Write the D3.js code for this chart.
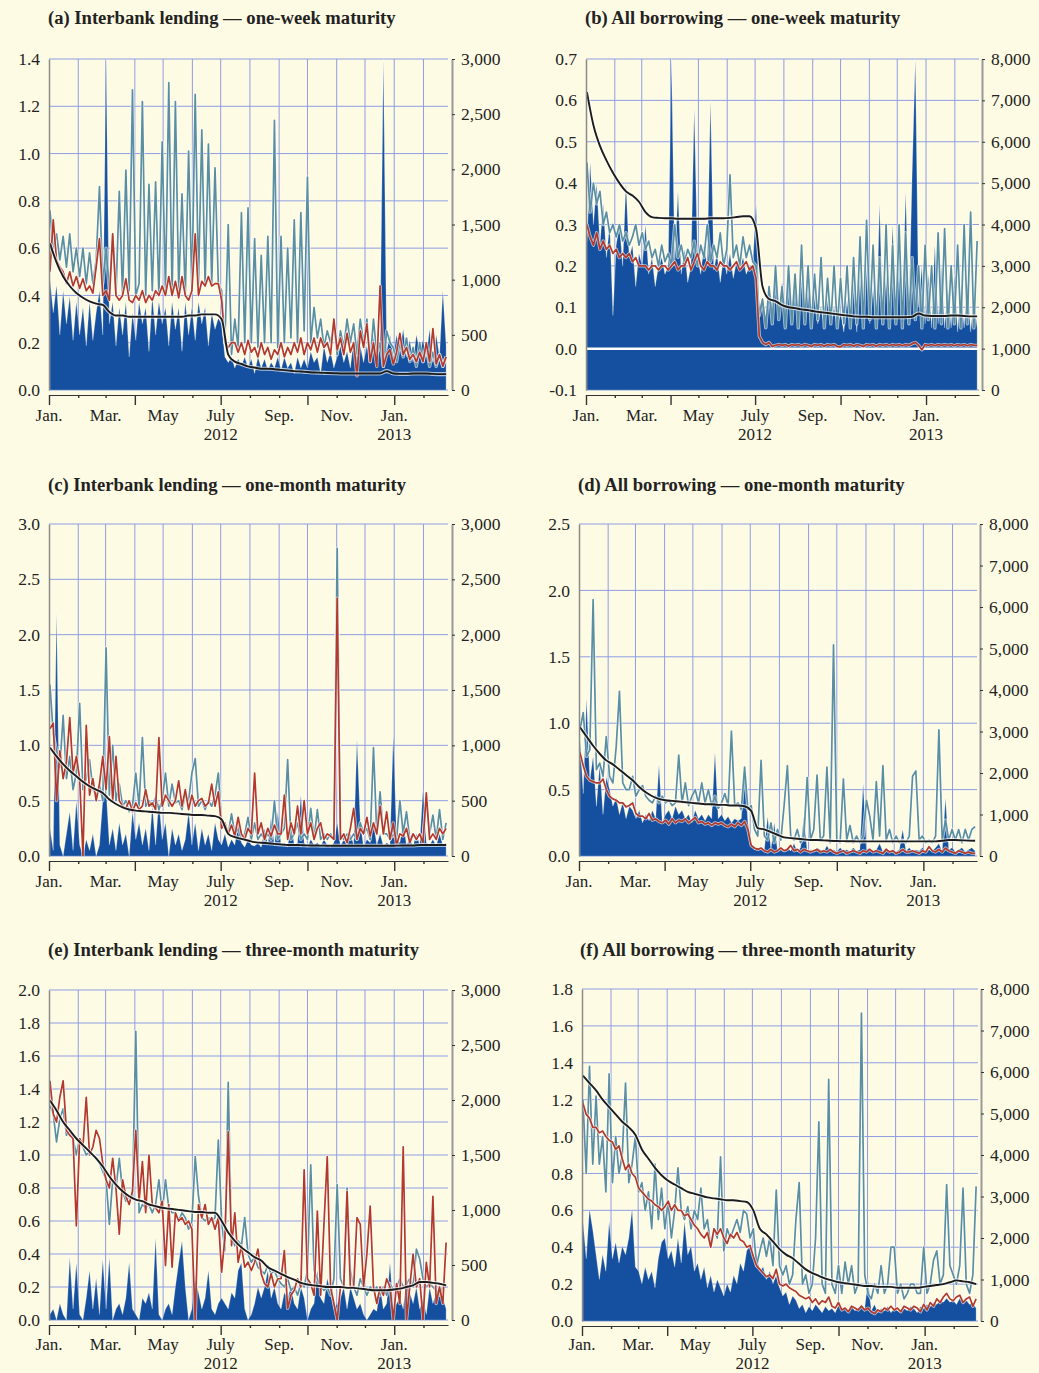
<!DOCTYPE html>
<html><head><meta charset="utf-8">
<script src="https://cdn.jsdelivr.net/npm/d3@7"></script>
<style>body{margin:0;background:#FEFBE4}svg{display:block}</style>
</head><body><svg id="chart" width="1039" height="1373"></svg>
<script>
// ---------- DATA (sampled every 3.5 days from 2 Jan 2012; benchmark weekly) ----------
const upperA = [0.76,0.60,0.66,0.55,0.65,0.52,0.66,0.50,0.60,0.48,
0.60,0.45,0.58,0.45,0.55,0.86,0.45,0.60,0.42,0.66,
0.40,0.84,0.40,0.93,0.42,1.27,0.40,0.45,1.22,0.40,
0.87,0.42,0.88,0.40,1.05,0.42,1.30,0.40,1.22,0.42,
0.83,0.40,1.01,0.42,1.25,0.45,1.10,0.44,1.04,0.45,
0.94,0.45,0.42,0.20,0.70,0.15,0.30,0.18,0.75,0.20,
0.77,0.20,0.64,0.18,0.57,0.20,0.65,0.20,1.14,0.18,
0.65,0.20,0.60,0.22,0.72,0.20,0.75,0.25,0.90,0.20,
0.35,0.22,0.30,0.18,0.25,0.20,0.28,0.15,0.25,0.18,
0.30,0.20,0.28,0.15,0.30,0.20,0.30,0.12,0.30,0.15,
0.20,0.10,0.25,0.20,0.18,0.12,0.20,0.14,0.22,0.12,
0.18,0.10,0.20,0.12,0.18,0.10,0.16,0.10,0.15,0.10,
0.14];
const meanA = [0.50,0.72,0.55,0.52,0.50,0.45,0.50,0.44,0.48,0.43,
0.47,0.42,0.44,0.41,0.52,0.64,0.40,0.42,0.38,0.66,
0.40,0.38,0.40,0.47,0.38,0.37,0.40,0.38,0.42,0.37,
0.40,0.38,0.42,0.40,0.44,0.40,0.48,0.40,0.46,0.39,
0.48,0.40,0.38,0.42,0.66,0.40,0.46,0.44,0.48,0.44,
0.45,0.45,0.38,0.20,0.18,0.20,0.20,0.16,0.20,0.15,
0.21,0.16,0.18,0.14,0.20,0.15,0.18,0.13,0.17,0.15,
0.20,0.14,0.18,0.15,0.20,0.16,0.22,0.15,0.20,0.17,
0.22,0.16,0.22,0.18,0.20,0.15,0.30,0.17,0.22,0.15,
0.24,0.16,0.20,0.06,0.25,0.18,0.28,0.12,0.20,0.10,
0.44,0.10,0.15,0.17,0.11,0.16,0.24,0.15,0.18,0.13,
0.15,0.12,0.16,0.12,0.20,0.12,0.26,0.11,0.15,0.10,
0.14];
const volumeA = [1000,700,950,500,900,600,850,450,800,500,
750,400,800,450,700,900,500,3000,600,800,
400,750,500,800,300,700,450,800,600,750,
350,850,500,800,600,750,400,800,550,750,
350,800,500,750,450,800,600,750,400,700,
550,650,600,300,250,300,200,280,220,300,
200,280,150,300,200,280,180,250,200,300,
180,300,200,250,150,300,200,280,200,350,
250,300,150,400,250,350,200,300,400,250,
350,200,450,300,400,250,400,300,500,250,
450,3000,350,500,300,500,350,550,300,450,
250,500,350,450,300,550,250,500,300,900,
400];
const benchA = [0.62,0.54,0.48,0.44,0.41,0.39,0.375,0.365,0.36,0.33,
0.315,0.315,0.31,0.31,0.31,0.31,0.31,0.31,0.31,0.31,
0.31,0.315,0.315,0.32,0.32,0.32,0.30,0.15,0.12,0.11,
0.10,0.095,0.09,0.09,0.088,0.085,0.083,0.08,0.078,0.076,
0.074,0.073,0.072,0.071,0.07,0.07,0.07,0.07,0.07,0.07,
0.07,0.08,0.07,0.068,0.068,0.07,0.07,0.07,0.068,0.067,
0.067];

const upperB = [0.45,0.33,0.40,0.35,0.38,0.30,0.33,0.28,0.30,0.27,
0.30,0.26,0.28,0.25,0.27,0.30,0.25,0.28,0.24,0.26,
0.22,0.24,0.20,0.25,0.21,0.23,0.20,0.30,0.22,0.25,
0.21,0.24,0.22,0.26,0.20,0.25,0.22,0.30,0.21,0.25,
0.22,0.28,0.20,0.24,0.42,0.22,0.25,0.20,0.27,0.22,
0.25,0.21,0.20,0.08,0.12,0.05,0.15,0.06,0.20,0.07,
0.15,0.05,0.20,0.06,0.18,0.05,0.25,0.06,0.20,0.05,
0.18,0.07,0.22,0.05,0.17,0.06,0.20,0.05,0.17,0.06,
0.20,0.05,0.22,0.06,0.27,0.05,0.31,0.07,0.25,0.05,
0.22,0.06,0.30,0.05,0.25,0.06,0.30,0.05,0.28,0.06,
0.22,0.07,0.20,0.05,0.25,0.07,0.20,0.05,0.28,0.06,
0.29,0.05,0.20,0.06,0.25,0.05,0.30,0.06,0.33,0.05,
0.26];
const meanB = [0.30,0.27,0.25,0.28,0.24,0.26,0.24,0.25,0.23,0.24,
0.22,0.23,0.22,0.23,0.21,0.22,0.20,0.20,0.20,0.19,
0.20,0.20,0.19,0.20,0.20,0.19,0.20,0.21,0.19,0.20,
0.20,0.22,0.19,0.21,0.23,0.20,0.19,0.21,0.20,0.20,
0.19,0.21,0.20,0.20,0.19,0.20,0.21,0.19,0.20,0.21,
0.19,0.20,0.17,0.03,0.015,0.01,0.015,0.005,0.008,0.01,
0.008,0.01,0.006,0.01,0.008,0.01,0.007,0.01,0.008,0.005,
0.01,0.008,0.01,0.006,0.01,0.008,0.01,0.005,0.004,0.01,
0.008,0.01,0.006,0.01,0.008,0.005,0.01,0.008,0.01,0.006,
0.01,0.008,0.01,0.007,0.01,0.008,0.01,0.007,0.01,0.008,
0.012,0.015,0.008,-0.003,0.01,0.008,0.01,0.007,0.01,0.008,
0.01,0.008,0.01,0.007,0.01,0.008,0.01,0.007,0.01,0.008,
0.008];
const volumeB = [3500,5500,4000,5000,3500,4500,3200,4000,1800,3500,
4000,3000,5000,3200,3500,2500,3300,3000,4000,2800,
3200,2500,3000,3200,2800,3000,8000,3000,4800,2800,
3400,2600,3000,6800,3200,2800,3500,3000,7000,2900,
3300,2600,3200,2800,3300,2700,3100,2900,3200,2800,
3000,3000,4500,2000,2200,1800,2500,2000,2800,1900,
2600,2000,2800,1800,2500,1900,2700,1800,2400,1700,
2300,1600,2000,1500,2200,1600,2000,1500,1900,1400,
2200,1500,2600,1400,2800,1500,3000,1600,2500,1500,
4500,1600,2800,1500,4000,1700,3000,1500,4800,1800,
5200,8000,2000,3000,1600,2800,1500,3500,1600,3000,
1500,2500,1500,2800,1400,2400,1500,2600,1400,2200,
1500];
const benchB = [0.62,0.54,0.49,0.455,0.425,0.40,0.38,0.37,0.355,0.33,
0.318,0.316,0.315,0.315,0.314,0.314,0.314,0.314,0.314,0.315,
0.315,0.315,0.316,0.318,0.32,0.32,0.29,0.15,0.12,0.115,
0.105,0.10,0.098,0.095,0.093,0.09,0.088,0.086,0.084,0.082,
0.08,0.078,0.077,0.077,0.076,0.076,0.076,0.076,0.076,0.076,
0.077,0.085,0.08,0.079,0.079,0.079,0.08,0.08,0.079,0.078,
0.078];

const upperC = [1.55,1.10,0.95,0.80,1.27,0.70,0.90,0.60,0.75,1.38,
0.60,0.70,0.87,0.60,0.55,0.65,0.50,1.88,0.55,1.00,
0.50,0.65,0.45,0.50,0.40,0.45,0.75,0.45,1.07,0.45,
0.50,0.45,0.53,0.42,0.50,0.75,0.45,0.65,0.48,0.50,
0.42,0.55,0.50,0.75,0.88,0.45,0.50,0.42,0.50,0.45,
0.55,0.75,0.30,0.25,0.20,0.38,0.20,0.25,0.15,0.20,
0.35,0.15,0.30,0.15,0.20,0.15,0.20,0.15,0.50,0.15,
0.20,0.25,0.87,0.15,0.20,0.30,0.15,0.20,0.15,0.43,
0.15,0.42,0.15,0.20,0.15,0.20,0.15,2.78,0.20,0.15,
0.20,0.15,0.20,0.15,0.30,0.20,0.25,0.15,0.98,0.20,
0.58,0.20,0.20,0.15,0.20,0.15,0.50,0.20,0.40,0.15,
0.20,0.15,0.20,0.15,0.50,0.20,0.37,0.15,0.42,0.15,
0.30];
const meanC = [1.15,1.20,0.50,0.95,0.70,0.85,1.25,0.75,0.90,0.70,
0.00,1.18,0.55,0.70,0.50,0.65,0.90,0.60,1.08,0.50,
0.90,0.50,0.45,0.43,0.50,0.40,0.48,0.42,0.45,0.60,
0.45,0.48,0.42,1.07,0.45,0.55,0.50,0.45,0.50,0.68,
0.45,0.60,0.42,0.55,0.45,0.50,0.52,0.45,0.48,0.65,
0.45,0.58,0.25,0.30,0.20,0.28,0.18,0.35,0.20,0.15,
0.25,0.20,0.75,0.20,0.30,0.15,0.25,0.18,0.28,0.20,
0.20,0.55,0.15,0.30,0.20,0.45,0.20,0.50,0.20,0.30,
0.15,0.25,0.30,0.15,0.20,0.18,0.15,2.33,0.15,0.20,
0.12,0.25,0.43,0.15,0.25,0.20,0.35,0.18,0.30,0.20,
0.45,0.20,0.40,0.15,0.30,0.10,0.20,0.18,0.25,0.12,
0.20,0.15,0.20,0.12,0.57,0.15,0.20,0.15,0.25,0.20,
0.25];
const volumeC = [250,50,2200,100,0,200,400,50,500,100,
0,150,50,200,0,100,500,600,100,250,
50,300,100,200,0,400,150,300,100,250,
50,450,100,500,150,300,0,250,100,200,
50,150,400,100,300,50,250,100,200,50,
300,150,100,200,80,150,100,300,120,80,
150,100,90,120,80,250,100,350,90,400,
100,120,80,300,100,120,550,120,80,150,
100,120,90,150,100,80,120,300,90,150,
100,200,100,1050,300,80,150,120,300,100,
200,90,120,100,1100,150,120,300,100,150,
90,200,100,600,120,100,150,90,200,100,
120];
const benchC = [0.98,0.90,0.83,0.77,0.72,0.67,0.63,0.60,0.57,0.51,
0.47,0.44,0.42,0.41,0.405,0.40,0.395,0.39,0.39,0.385,
0.38,0.375,0.37,0.37,0.365,0.36,0.33,0.20,0.17,0.155,
0.14,0.125,0.12,0.115,0.11,0.105,0.10,0.10,0.098,0.096,
0.095,0.094,0.093,0.092,0.092,0.092,0.092,0.092,0.092,0.092,
0.092,0.092,0.093,0.094,0.095,0.095,0.10,0.10,0.10,0.10,
0.10];

const upperD = [0.95,1.08,0.75,0.80,1.93,0.65,0.70,0.60,0.90,0.60,
0.55,0.82,1.24,0.55,0.50,0.50,0.60,0.45,0.50,0.53,
0.45,0.42,0.40,0.45,0.40,0.45,0.40,0.42,0.38,0.40,
0.76,0.40,0.55,0.38,0.45,0.50,0.40,0.55,0.40,0.50,
0.38,0.45,0.36,0.40,0.47,0.38,0.94,0.38,0.40,0.35,
0.67,0.35,0.38,0.20,0.15,0.72,0.15,0.12,0.25,0.10,
0.20,0.12,0.38,0.68,0.15,0.12,0.20,0.10,0.15,0.59,
0.12,0.20,0.61,0.12,0.15,0.67,0.10,1.59,0.12,0.10,
0.58,0.12,0.23,0.10,0.15,0.10,0.15,0.42,0.30,0.12,
0.56,0.15,0.68,0.12,0.20,0.10,0.15,0.10,0.12,0.10,
0.15,0.60,0.64,0.12,0.15,0.10,0.12,0.10,0.15,0.95,
0.12,0.27,0.12,0.20,0.12,0.20,0.10,0.20,0.12,0.20,
0.22];
const meanD = [0.78,0.68,0.60,0.57,0.56,0.55,0.55,0.58,0.50,0.45,
0.43,0.42,0.40,0.40,0.37,0.38,0.40,0.32,0.30,0.30,
0.28,0.32,0.27,0.28,0.26,0.25,0.27,0.24,0.28,0.25,
0.27,0.26,0.28,0.25,0.27,0.29,0.25,0.26,0.24,0.25,
0.23,0.25,0.24,0.25,0.23,0.22,0.24,0.22,0.25,0.23,
0.26,0.20,0.08,0.06,0.05,0.06,0.04,0.03,0.05,0.03,
0.04,0.06,0.04,0.05,0.08,0.04,0.05,0.03,0.05,0.04,
0.03,0.04,0.05,0.03,0.04,0.03,0.05,0.03,0.02,0.03,
0.04,0.02,0.03,0.04,0.03,0.02,0.04,0.03,0.05,0.03,
0.04,0.03,0.02,0.05,0.03,0.04,0.02,0.03,0.05,0.03,
0.03,0.04,0.03,0.02,0.04,0.03,0.07,0.04,0.03,0.05,
0.03,0.06,0.04,0.03,0.02,0.04,0.03,0.02,0.03,0.02,
0.02];
const volumeD = [2800,1500,3800,1800,2400,1200,2200,1000,1900,1600,
1200,1400,1000,1300,900,1200,1100,900,1100,800,
1000,850,1100,900,2200,800,1000,1100,900,1200,
1000,1100,900,1000,800,1100,900,1000,850,1000,
900,2500,900,1000,850,950,800,900,850,900,
2100,800,300,150,200,150,150,950,150,800,
120,150,100,200,120,300,100,200,950,120,
150,100,200,150,100,250,120,150,100,200,
120,150,100,200,120,150,1750,150,200,100,
150,300,100,200,120,150,100,150,640,120,
200,100,150,120,200,100,150,120,200,300,
100,1400,150,200,100,150,200,100,150,200,
120];
const benchD = [0.97,0.90,0.83,0.77,0.72,0.69,0.65,0.61,0.57,0.52,
0.48,0.45,0.43,0.42,0.415,0.41,0.405,0.40,0.395,0.39,
0.39,0.385,0.385,0.38,0.38,0.375,0.34,0.21,0.20,0.18,
0.16,0.14,0.135,0.13,0.125,0.12,0.12,0.118,0.115,0.113,
0.112,0.111,0.11,0.11,0.11,0.11,0.11,0.11,0.11,0.11,
0.11,0.11,0.11,0.11,0.11,0.115,0.12,0.12,0.118,0.116,
0.115];

const upperE = [1.30,1.25,1.08,1.22,1.28,1.12,1.15,1.10,1.00,1.10,
1.05,1.00,1.02,1.00,0.98,0.95,0.90,0.85,0.58,0.85,
0.80,0.98,0.78,0.72,0.75,0.74,1.75,0.65,0.70,0.68,
0.70,0.65,0.70,0.85,0.65,0.85,0.68,0.65,0.65,0.60,
0.65,0.62,0.55,0.60,0.99,0.75,0.62,0.60,0.62,0.60,
0.62,1.09,0.60,0.42,1.44,0.50,0.45,0.48,0.45,0.62,
0.40,0.35,0.38,0.32,0.30,0.28,0.33,0.28,0.30,0.25,
0.22,0.20,0.25,0.18,0.20,0.15,0.22,0.20,0.30,0.94,
0.30,0.25,0.20,0.18,0.20,0.15,0.25,0.82,0.25,0.20,
0.80,0.30,0.20,0.15,0.25,0.20,0.15,0.20,0.18,0.20,
0.15,0.20,0.15,0.22,0.18,0.20,0.25,0.20,0.22,0.25,
0.20,0.43,0.37,0.25,0.20,0.22,0.20,0.18,0.15,0.20,
0.20];
const meanE = [1.45,1.25,1.20,1.35,1.45,1.15,1.12,1.10,0.57,1.10,
1.05,1.35,1.00,1.05,1.15,1.10,0.95,0.85,0.80,0.98,
0.80,0.52,0.85,0.75,0.70,0.78,1.15,0.72,0.96,0.65,
1.00,0.70,0.68,0.65,0.72,0.33,0.70,0.32,0.65,0.60,
0.62,0.58,0.60,0.55,0.00,0.70,0.62,0.70,0.58,0.62,
0.55,0.62,0.29,0.50,1.14,0.45,0.65,0.35,0.45,0.32,
0.35,0.30,0.35,0.43,0.28,0.22,0.20,0.28,0.20,0.25,
0.25,0.42,0.07,0.15,0.18,0.25,0.20,0.91,0.25,0.22,
0.15,0.66,0.15,0.58,0.99,0.20,0.10,0.00,0.20,0.20,
0.78,0.20,0.20,0.62,0.58,0.20,0.40,0.69,0.20,0.10,
0.20,0.15,0.25,0.20,0.00,0.22,0.10,1.05,0.00,0.20,
0.40,0.20,0.25,0.00,0.35,0.20,0.75,0.10,0.20,0.10,
0.47];
const volumeE = [50,100,0,150,50,0,570,100,520,50,
0,200,450,100,380,50,550,100,570,0,
100,150,50,200,525,100,50,0,200,150,
250,100,750,50,0,100,150,50,300,520,
720,300,0,100,370,250,100,200,450,100,
50,150,200,150,100,250,200,450,520,100,
0,50,150,300,200,300,450,200,300,150,
100,250,200,300,150,100,300,200,0,100,
150,450,200,150,380,250,100,150,200,300,
100,300,200,100,150,50,0,50,100,80,
300,100,150,520,100,150,200,100,380,250,
150,300,100,200,50,300,150,250,300,200,
100];
const benchE = [1.33,1.27,1.20,1.15,1.10,1.06,1.02,0.98,0.93,0.87,
0.82,0.78,0.75,0.73,0.72,0.70,0.69,0.68,0.675,0.67,
0.665,0.66,0.655,0.655,0.65,0.65,0.60,0.53,0.48,0.44,
0.41,0.38,0.36,0.32,0.30,0.28,0.26,0.245,0.225,0.215,
0.21,0.205,0.20,0.20,0.20,0.195,0.195,0.19,0.185,0.18,
0.18,0.18,0.185,0.19,0.20,0.21,0.23,0.23,0.225,0.22,
0.21];

const upperF = [1.20,0.80,1.38,0.85,1.22,0.85,1.00,0.70,1.34,0.75,
1.00,0.80,0.90,1.29,0.75,0.85,1.00,0.70,0.75,0.60,
0.70,0.50,0.85,0.55,0.72,0.50,0.65,0.45,0.60,0.83,
0.60,0.55,0.62,0.50,0.60,0.55,0.72,0.50,0.55,0.40,
0.50,0.45,0.89,0.38,0.50,0.45,0.50,0.55,0.48,0.60,
0.58,0.45,0.50,0.30,0.38,0.45,0.35,0.45,0.30,0.71,
0.30,0.25,0.30,0.20,0.25,0.55,0.75,0.20,0.25,0.15,
0.20,0.45,1.08,0.20,0.15,1.31,0.20,0.15,0.30,0.15,
0.32,0.20,0.30,0.15,0.20,1.67,0.25,0.15,0.12,0.20,
0.15,0.30,0.15,0.20,0.40,0.40,0.15,0.20,0.12,0.15,
0.20,0.20,0.15,0.15,0.40,0.15,0.20,0.33,0.38,0.20,
0.25,0.74,0.30,0.25,0.20,0.30,0.72,0.20,0.15,0.25,
0.73];
const meanF = [1.18,1.12,1.10,1.05,1.05,1.02,1.03,1.00,0.98,0.97,
0.93,0.95,0.88,0.82,0.85,0.80,0.78,0.72,0.70,0.68,
0.66,0.65,0.63,0.62,0.60,0.62,0.65,0.60,0.63,0.60,
0.60,0.57,0.58,0.55,0.52,0.50,0.47,0.45,0.48,0.40,
0.50,0.47,0.50,0.45,0.42,0.47,0.45,0.48,0.44,0.43,
0.40,0.41,0.35,0.30,0.28,0.26,0.24,0.25,0.23,0.28,
0.20,0.19,0.20,0.18,0.17,0.16,0.14,0.13,0.12,0.13,
0.10,0.12,0.09,0.11,0.10,0.13,0.08,0.07,0.10,0.06,
0.07,0.05,0.08,0.07,0.06,0.08,0.06,0.07,0.05,0.04,
0.06,0.05,0.07,0.06,0.08,0.06,0.07,0.05,0.08,0.07,
0.06,0.08,0.07,0.05,0.09,0.06,0.10,0.08,0.12,0.10,
0.13,0.15,0.12,0.11,0.13,0.14,0.10,0.12,0.13,0.08,
0.12];
const volumeF = [2400,1500,2700,2200,1600,1000,1600,1200,2400,1500,
1900,1400,1800,1600,2000,2700,1300,1200,900,1300,
1000,1200,800,1500,1900,2000,1500,1700,1300,2000,
1400,2400,1600,1800,1200,1400,1000,1300,800,1100,
700,1000,800,600,900,700,1100,900,1400,1200,
1700,1800,1500,1600,1200,1300,1000,1200,900,1100,
800,600,700,400,600,500,300,400,200,350,
250,400,300,200,350,250,300,200,400,250,
300,200,350,250,300,400,300,1000,250,400,
200,300,250,350,200,300,250,200,300,250,
350,300,200,350,300,400,350,450,400,500,
450,550,450,500,400,550,450,500,400,450,
300];
const benchF = [1.33,1.29,1.25,1.20,1.16,1.12,1.08,1.05,1.01,0.93,
0.88,0.83,0.79,0.76,0.74,0.72,0.70,0.69,0.68,0.67,
0.665,0.66,0.655,0.655,0.65,0.645,0.60,0.50,0.47,0.43,
0.39,0.36,0.34,0.31,0.28,0.26,0.245,0.23,0.22,0.21,
0.205,0.20,0.195,0.19,0.19,0.185,0.185,0.185,0.18,0.18,
0.18,0.18,0.185,0.19,0.195,0.20,0.21,0.22,0.215,0.21,
0.20];

const titles = ["(a) Interbank lending — one-week maturity","(b) All borrowing — one-week maturity",
"(c) Interbank lending — one-month maturity","(d) All borrowing — one-month maturity",
"(e) Interbank lending — three-month maturity","(f) All borrowing — three-month maturity"];
const leftTicks = [[0,0.2,0.4,0.6,0.8,1.0,1.2,1.4],[-0.1,0,0.1,0.2,0.3,0.4,0.5,0.6,0.7],
[0,0.5,1.0,1.5,2.0,2.5,3.0],[0,0.5,1.0,1.5,2.0,2.5],
[0,0.2,0.4,0.6,0.8,1.0,1.2,1.4,1.6,1.8,2.0],[0,0.2,0.4,0.6,0.8,1.0,1.2,1.4,1.6,1.8]];
const rightTicks = [[0,500,1000,1500,2000,2500,3000],[0,1000,2000,3000,4000,5000,6000,7000,8000],
[0,500,1000,1500,2000,2500,3000],[0,1000,2000,3000,4000,5000,6000,7000,8000],
[0,500,1000,1500,2000,2500,3000],[0,1000,2000,3000,4000,5000,6000,7000,8000]];
const monthLabels = ["Jan.","Mar.","May","July","Sep.","Nov.","Jan."];
const monthLabelDates = ["2012-01-01","2012-03-01","2012-05-01","2012-07-01","2012-09-01","2012-11-01","2013-01-01"];
const yearLabels = ["2012","2013"];
const yearLabelDates = ["2012-07-01","2013-01-01"];

// ---------- LAYOUT ----------
const startDate = new Date(2012,0,2);
const dailyDates = d3.range(upperA.length).map(i => new Date(startDate.getTime() + i*3.5*864e5));
const weeklyDates = d3.range(benchA.length).map(i => d3.timeDay.offset(startDate, 7*i));
const parse = d3.timeParse("%Y-%m-%d");

const panels = [
 {x0:49,x1:448,ax:452,y0:59,y1:390,tx:48,ty:24,up:upperA,mean:meanA,vol:volumeA,bench:benchA},
 {x0:586,x1:979,ax:982,y0:59,y1:390,tx:585,ty:24,up:upperB,mean:meanB,vol:volumeB,bench:benchB,zero:true},
 {x0:49,x1:448,ax:452,y0:524,y1:856,tx:48,ty:491,up:upperC,mean:meanC,vol:volumeC,bench:benchC},
 {x0:579,x1:977,ax:980,y0:524,y1:856,tx:578,ty:491,up:upperD,mean:meanD,vol:volumeD,bench:benchD},
 {x0:49,x1:448,ax:452,y0:990,y1:1320,tx:48,ty:956,up:upperE,mean:meanE,vol:volumeE,bench:benchE},
 {x0:582,x1:978,ax:981,y0:989,y1:1321,tx:580,ty:956,up:upperF,mean:meanF,vol:volumeF,bench:benchF}
];

const C = {bg:"#FEFBE4", grid:"#8E9DE3", blue:"#14509F", teal:"#5A8FA2", red:"#B3392B", black:"#1c1c1c", text:"#222"};
const FONT = "'Liberation Serif','Times New Roman',serif";
const svg = d3.select("#chart");
svg.append("rect").attr("width",1039).attr("height",1373).attr("fill",C.bg);

const fmtL = v => d3.format(".1f")(v).replace("\u2212","-");
const fmtR = d3.format(",");

panels.forEach((p,k) => {
  const g = svg.append("g");
  const x = d3.scaleTime().domain([new Date(2012,0,1), new Date(2013,1,27)]).range([p.x0,p.x1]);
  const yL = d3.scaleLinear().domain(d3.extent(leftTicks[k])).range([p.y1,p.y0]);
  const yR = d3.scaleLinear().domain(d3.extent(rightTicks[k])).range([p.y1,p.y0]);

  // title
  g.append("text").attr("x",p.tx).attr("y",p.ty).text(titles[k])
    .attr("font-family",FONT).attr("font-weight","bold").attr("font-size","18.6px").attr("fill",C.text);

  // grid
  const grid = g.append("g").attr("stroke",C.grid).attr("stroke-width",1);
  leftTicks[k].forEach(t => grid.append("line").attr("x1",p.x0).attr("x2",p.x1).attr("y1",yL(t)).attr("y2",yL(t)));
  d3.timeMonth.range(new Date(2012,1,1), new Date(2013,1,2)).forEach(m =>
    grid.append("line").attr("x1",x(m)).attr("x2",x(m)).attr("y1",p.y0).attr("y2",p.y1));

  // clip
  const cid = "clip"+k;
  g.append("clipPath").attr("id",cid).append("rect")
    .attr("x",p.x0).attr("y",p.y0).attr("width",p.x1-p.x0).attr("height",p.y1-p.y0);
  const plot = g.append("g").attr("clip-path",`url(#${cid})`);

  // volume area (right axis)
  const area = d3.area().x((d,i)=>x(dailyDates[i])).y0(yR(0)).y1(d=>yR(d));
  plot.append("path").datum(p.vol).attr("d",area).attr("fill",C.blue)
    .attr("stroke","rgba(255,255,255,0.35)").attr("stroke-width",0.7);

  if (p.zero) {
    plot.append("line").attr("x1",p.x0).attr("x2",p.x1).attr("y1",yL(0)).attr("y2",yL(0))
      .attr("stroke","#fff").attr("stroke-width",2.5);
  }

  const lineD = d3.line().x((d,i)=>x(dailyDates[i])).y(d=>yL(d));
  const lineW = d3.line().x((d,i)=>x(weeklyDates[i])).y(d=>yL(d)).curve(d3.curveMonotoneX);
  const drawLine = (data, gen, col, w, halo) => {
    plot.append("path").datum(data).attr("d",gen).attr("fill","none")
      .attr("stroke","#fff").attr("stroke-opacity",0.65).attr("stroke-width",w+halo).attr("stroke-linejoin","round");
    plot.append("path").datum(data).attr("d",gen).attr("fill","none")
      .attr("stroke",col).attr("stroke-width",w).attr("stroke-linejoin","round");
  };
  drawLine(p.up, lineD, C.teal, 1.7, 1.6);
  drawLine(p.mean, lineD, C.red, 1.7, 1.6);
  drawLine(p.bench, lineW, C.black, 1.9, 2.2);

  // left axis
  const la = g.append("g").attr("transform",`translate(${p.x0},0)`)
    .call(d3.axisLeft(yL).tickValues(leftTicks[k]).tickSize(0).tickPadding(9).tickFormat(fmtL));
  la.select(".domain").attr("stroke","#8a8a8a").attr("stroke-width",1.5);
  la.selectAll("text").attr("font-family",FONT).attr("font-size","17.5px").attr("fill",C.text);

  // right axis
  const ra = g.append("g").attr("transform",`translate(${p.ax},0)`)
    .call(d3.axisRight(yR).tickValues(rightTicks[k]).tickSize(3).tickSizeOuter(0).tickPadding(6).tickFormat(fmtR));
  ra.select(".domain").attr("stroke","#999").attr("stroke-width",2);
  ra.selectAll(".tick line").attr("stroke","#333");
  ra.selectAll("text").attr("font-family",FONT).attr("font-size","17.5px").attr("fill",C.text);

  // bottom axis
  const ba = g.append("g").attr("transform",`translate(0,${p.y1+5})`)
    .call(d3.axisBottom(x).ticks(d3.timeMonth.every(1)).tickSize(3).tickSizeOuter(0).tickFormat(""));
  ba.select(".domain").attr("stroke","#333").attr("stroke-width",1.2);
  ba.selectAll(".tick line").attr("stroke","#333").attr("stroke-width",1.4)
    .attr("y2", d => d.getMonth()%3===0 ? 10 : 3);

  const lab = g.append("g").attr("font-family",FONT).attr("font-size","17px").attr("fill",C.text).attr("text-anchor","middle");
  const monthY = Math.min(p.y1+31, 1349.5), yearY = Math.min(p.y1+50, 1369);
  monthLabels.forEach((m,i) => lab.append("text").attr("x",x(parse(monthLabelDates[i]))).attr("y",monthY).text(m));
  yearLabels.forEach((yv,i) => lab.append("text").attr("x",x(parse(yearLabelDates[i]))).attr("y",yearY).text(yv));
});
</script></body></html>
